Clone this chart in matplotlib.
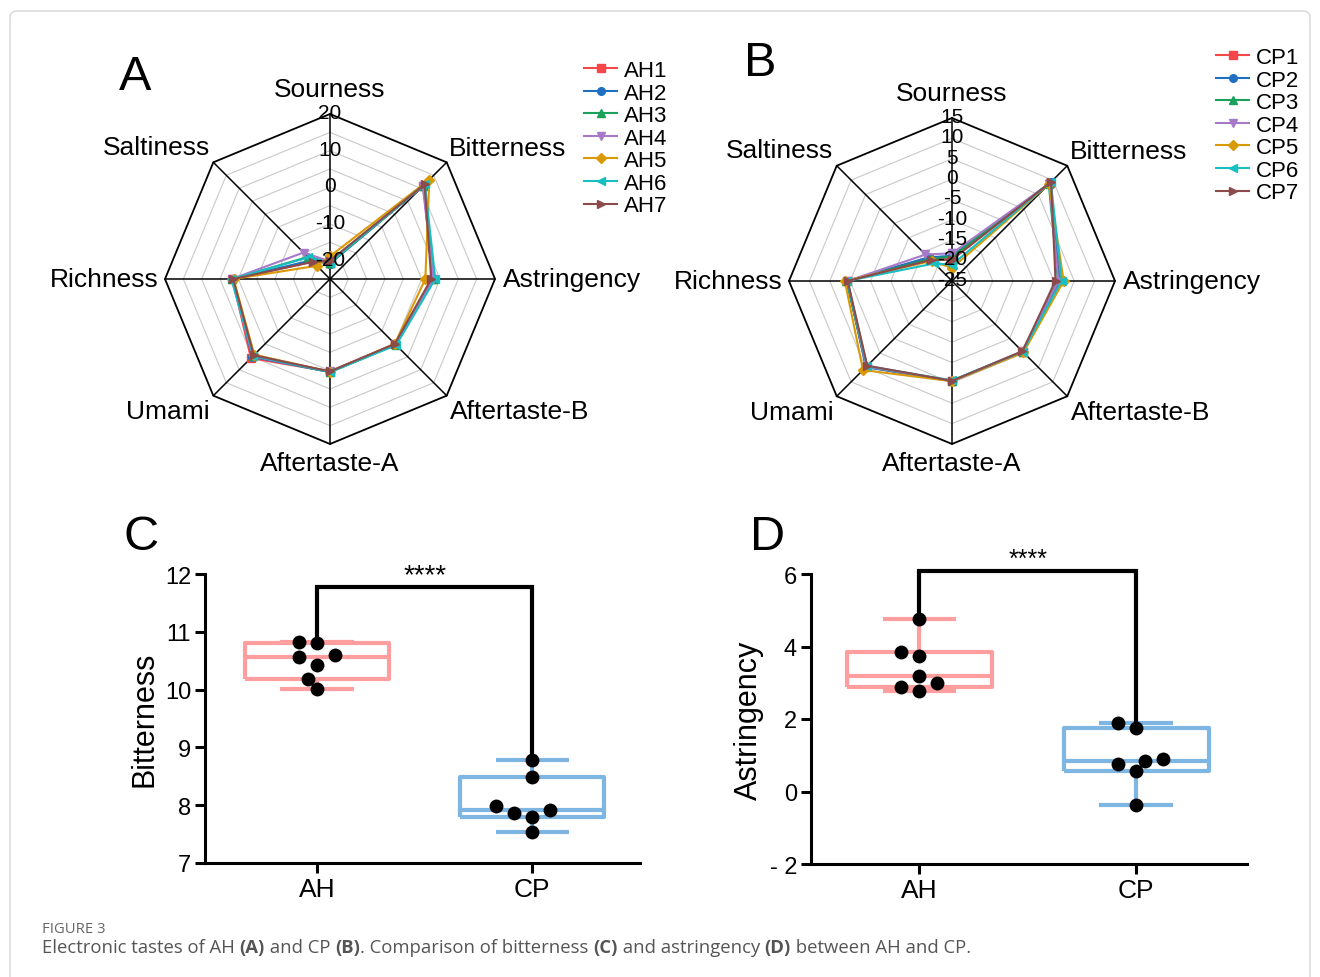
import numpy as np
import matplotlib.pyplot as plt
from matplotlib.patches import FancyBboxPatch

plt.rcParams['font.family'] = ['Liberation Sans', 'DejaVu Sans']

W, H = 1320, 978

taste_axes = ["Sourness", "Bitterness", "Astringency", "Aftertaste-B",
              "Aftertaste-A", "Umami", "Richness", "Saltiness"]
ah_names = ["AH1", "AH2", "AH3", "AH4", "AH5", "AH6", "AH7"]
cp_names = ["CP1", "CP2", "CP3", "CP4", "CP5", "CP6", "CP7"]

# e-tongue readings, one row per sample, columns follow taste_axes
ah_radar = [
    [-20.5, 11.0, 3.0, 0.2, 0.3, 5.5, 1.6, -18.3],
    [-20.8, 11.2, 2.9, 0.3, 0.4, 5.0, 1.5, -17.8],
    [-20.6, 11.0, 3.4, 0.4, 0.3, 4.7, 1.7, -16.5],
    [-20.2, 10.8, 3.2, 0.2, 0.2, 4.8, 1.8, -14.8],
    [-18.8, 13.3, 1.0, 0.0, 0.3, 4.2, 1.3, -19.9],
    [-20.5, 11.6, 3.7, 0.5, 0.4, 4.6, 1.9, -16.7],
    [-20.0, 11.5, 2.6, 0.0, 0.2, 4.4, 1.4, -18.4],
]
cp_radar = [
    [-19.5, 9.0, 1.6, -0.4, -0.5, 4.8, 0.8, -17.0],
    [-18.8, 9.2, 1.2, -0.3, -0.4, 4.9, 0.7, -16.8],
    [-19.0, 8.6, 1.0, -0.5, -0.5, 4.6, 0.9, -17.4],
    [-18.2, 8.8, 1.1, -0.6, -0.5, 4.7, 0.6, -15.8],
    [-21.8, 8.7, 2.4, -0.2, -0.4, 5.9, 1.3, -18.0],
    [-21.0, 9.3, 1.9, -0.5, -0.6, 4.5, 0.7, -18.9],
    [-19.8, 9.4, 0.4, -0.6, -0.5, 4.4, 0.6, -17.7],
]
ah_ticks = [20, 10, 0, -10, -20]
cp_ticks = [15, 10, 5, 0, -5, -10, -15, -20, -25]

ah_bitter = [10.01, 10.19, 10.43, 10.56, 10.59, 10.81, 10.82]
cp_bitter = [7.53, 7.80, 7.87, 7.91, 7.98, 8.48, 8.79]
ah_astr = [2.78, 2.89, 2.98, 3.20, 3.73, 3.86, 4.76]
cp_astr = [-0.36, 0.57, 0.76, 0.85, 0.90, 1.75, 1.89]
groups = ["AH", "CP"]

series_colors = ['#F5474A', '#1F6FC2', '#18A05C', '#A77AC9', '#D99A05', '#17BFC2', '#8C4A4A']
series_markers = ['s', 'o', '^', 'v', 'D', '<', '>']
box_colors = ['#FF9E9E', '#7DB6E3']


def px_rect(x0, y0, x1, y1):
    return [x0 / W, 1 - y1 / H, (x1 - x0) / W, (y1 - y0) / H]


def radar(ax, rows, names, rmin, rmax, step, ticks, lim):
    n = len(taste_axes)
    ang = np.pi / 2 - np.arange(n) * 2 * np.pi / n
    closed = np.append(ang, ang[0])
    span = rmax - rmin
    for lev in np.arange(rmin + step, rmax - 1e-9, step):
        r = (lev - rmin) / span
        ax.plot(r * np.cos(closed), r * np.sin(closed), color='#c9c9c9', lw=0.8, zorder=1)
    ax.plot(np.cos(closed), np.sin(closed), color='black', lw=1.3, zorder=2)
    for a in ang:
        ax.plot([0, np.cos(a)], [0, np.sin(a)], color='black', lw=1.1, zorder=2)
    for vals, name, c, m in zip(rows, names, series_colors, series_markers):
        r = (np.array(vals) - rmin) / span
        r = np.append(r, r[0])
        ax.plot(r * np.cos(closed), r * np.sin(closed), color=c, marker=m, ms=5.5,
                lw=1.5, label=name, zorder=3)
    for t in ticks:
        r = (t - rmin) / span
        ax.text(0, r + 0.01, str(t), ha='center', va='center', fontsize=15, zorder=5)
    align = [('center', 'bottom', 1.08), ('left', 'bottom', 1.02), ('left', 'center', 1.05),
             ('left', 'top', 1.03), ('center', 'top', 1.04), ('right', 'top', 1.03),
             ('right', 'center', 1.04), ('right', 'bottom', 1.03)]
    for a, name, (ha, va, rr) in zip(ang, taste_axes, align):
        ax.text(rr * np.cos(a), rr * np.sin(a), name, ha=ha, va=va, fontsize=19)
    ax.set_xlim(-lim, lim)
    ax.set_ylim(-lim, lim)
    ax.axis('off')


def swarm(ax, x0, vals, diam, step):
    pts = ax.transData.transform(np.column_stack([np.full(len(vals), x0), vals]))
    ys = pts[:, 1]
    placed = []
    offs = np.zeros(len(vals))
    cands = [0]
    for k in range(1, 6):
        cands += [-k * step, k * step]
    for i in np.argsort(vals):
        for off in cands:
            if all((off - px) ** 2 + (ys[i] - py) ** 2 >= diam ** 2 for px, py in placed):
                break
        placed.append((off, ys[i]))
        offs[i] = off
    disp = np.column_stack([pts[:, 0] + offs, ys])
    return ax.transData.inverted().transform(disp)[:, 0]


def box_panel(ax, data, xlim, ylim, yticks, yticklabels, ylabel, legs, top, star_fs):
    ax.set_xlim(*xlim)
    ax.set_ylim(*ylim)
    for i, (d, c) in enumerate(zip(data, box_colors)):
        q1, med, q3 = np.percentile(d, [25, 50, 75], method='weibull')
        st = dict(med=med, q1=q1, q3=q3, whislo=min(d), whishi=max(d), fliers=[], label=groups[i])
        props = dict(color=c, lw=3, solid_capstyle='butt')
        ax.bxp([st], positions=[i + 1], widths=0.67, capwidths=0.34, showfliers=False,
               boxprops=props, medianprops=props, whiskerprops=props, capprops=props,
               manage_ticks=False)
    for i, d in enumerate(data):
        xs = swarm(ax, i + 1, d, 13, 9)
        ax.scatter(xs, d, s=100, color='black', zorder=4, clip_on=False, linewidths=0)
    ax.plot([1, 1, 2, 2], [legs[0], top, top, legs[1]], color='black', lw=3,
            clip_on=False, zorder=5, solid_joinstyle='miter')
    ax.annotate('****', (1.5, top), xytext=(0, 4), textcoords='offset points',
                ha='center', va='baseline', fontsize=star_fs, annotation_clip=False)
    ax.set_xticks([1, 2])
    ax.set_xticklabels(groups, fontsize=19)
    ax.set_yticks(yticks)
    ax.set_yticklabels(yticklabels, fontsize=17)
    ax.set_ylabel(ylabel, fontsize=22, labelpad=4)
    for s in ['top', 'right']:
        ax.spines[s].set_visible(False)
    for s in ['left', 'bottom']:
        ax.spines[s].set_linewidth(2.2)
    ax.tick_params(direction='out', length=7, width=2.2, pad=3)


fig = plt.figure(figsize=(W / 100, H / 100), dpi=100)

card = FancyBboxPatch((10 / W, -0.05), 1300 / W, 1.05 - 12 / H,
                      boxstyle='round,pad=0,rounding_size=0.006', transform=fig.transFigure,
                      facecolor='white', edgecolor='#d6d6d6', lw=1.0, zorder=-5)
fig.patches.append(card)

axA = fig.add_axes(px_rect(130, 80, 530, 480))
radar(axA, ah_radar, ah_names, -25, 20, 5, ah_ticks, 200 / 165)
axB = fig.add_axes(px_rect(752, 82, 1152, 482))
radar(axB, cp_radar, cp_names, -25, 15, 5, cp_ticks, 200 / 163)

leg_kw = dict(frameon=False, fontsize=16, handlelength=1.5, handletextpad=0.3,
              labelspacing=0.07, borderpad=0, borderaxespad=0)
fig.legend(*axA.get_legend_handles_labels(), loc='upper left',
           bbox_to_anchor=(584 / W, 1 - 61 / H), **leg_kw)
fig.legend(*axB.get_legend_handles_labels(), loc='upper left',
           bbox_to_anchor=(1216 / W, 1 - 48 / H), **leg_kw)

axC = fig.add_axes(px_rect(205, 575, 640, 864))
box_panel(axC, [ah_bitter, cp_bitter], (0.48, 2.5), (7, 12), [7, 8, 9, 10, 11, 12],
          ['7', '8', '9', '10', '11', '12'], 'Bitterness', (10.93, 8.86), 11.77, 20)
axD = fig.add_axes(px_rect(811, 575, 1247, 865))
box_panel(axD, [ah_astr, cp_astr], (0.5, 2.51), (-2, 6), [-2, 0, 2, 4, 6],
          ['- 2', '0', '2', '4', '6'], 'Astringency', (4.76, 1.91), 6.07, 18)

for lab, x, y in [('A', 135, 78), ('B', 760, 63), ('C', 141, 537), ('D', 768, 537)]:
    fig.text(x / W, 1 - y / H, lab, fontsize=35, ha='center', va='center')

cap_font = ['Open Sans', 'DejaVu Sans']
fig.text(42 / W, 1 - 930 / H, 'FIGURE 3', fontsize=10.7, color='#666666',
         family=cap_font, va='center')
pieces = [('Electronic tastes of AH ', 'normal'), ('(A)', 'bold'), (' and CP ', 'normal'),
          ('(B)', 'bold'), ('. Comparison of bitterness ', 'normal'), ('(C)', 'bold'),
          (' and astringency ', 'normal'), ('(D)', 'bold'), (' between AH and CP.', 'normal')]
renderer = fig.canvas.get_renderer()
x = 42
for txt, wt in pieces:
    t = fig.text(x / W, 1 - 948 / H, txt, fontsize=13.3, color='#555555', family=cap_font,
                 weight=wt, va='center')
    x += t.get_window_extent(renderer).width

fig.savefig('out.png', dpi=100)
